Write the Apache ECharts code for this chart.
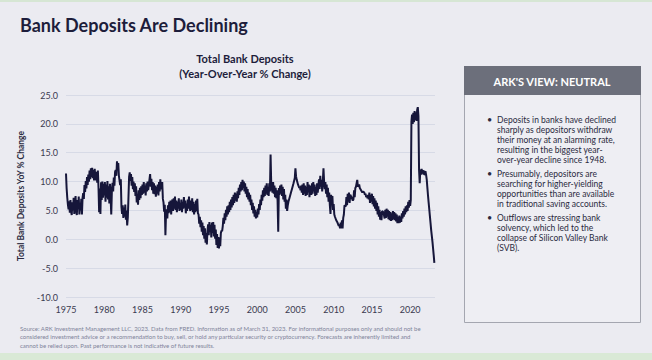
<!DOCTYPE html>
<html><head><meta charset="utf-8">
<script src="https://cdn.jsdelivr.net/npm/echarts@6/dist/echarts.min.js"></script>
<style>html,body{margin:0;padding:0;background:#ebebf1;}#c{width:652px;height:360px;}</style>
</head><body><div id="c"></div>
<script>
// Monthly YoY % change of total bank deposits
const startYear = 1975;
const vals1975_1979 = [
  11.4, 8.8, 7.2, 6.0, 5.2, 6.6, 4.6, 6.8, 4.8, 4.2, 6.4, 5.0,
  7.2, 4.4, 6.2, 7.5, 4.9, 4.2, 6.8, 5.2, 7.4, 4.3, 6.3, 5.0,
  7.0, 4.3, 7.2, 8.0, 7.0, 9.4, 8.2, 10.1, 8.8, 10.8, 9.4, 11.2,
  10.0, 11.9, 10.4, 12.3, 10.8, 12.4, 10.6, 12.0, 10.2, 12.2, 10.9, 10.2,
  11.7, 9.8, 11.9, 9.0, 4.7, 8.8, 4.4, 9.9, 6.8, 10.0, 7.2, 9.6
];
const vals1980_1984 = [
  7.6, 9.9, 6.5, 9.5, 7.2, 10.1, 6.9, 9.2, 6.2, 9.6, 7.3, 4.3,
  8.4, 9.8, 8.3, 10.7, 9.3, 11.7, 12.0, 11.0, 13.5, 12.3, 13.2, 11.0,
  11.0, 9.4, 10.4, 5.6, 4.4, 5.9, 3.7, 5.5, 3.9, 6.0, 3.4, 5.0,
  2.4, 3.8, 7.2, 10.8, 11.6, 10.1, 11.3, 9.3, 10.8, 8.7, 10.0, 8.2,
  9.7, 7.5, 9.2, 6.4, 7.9, 6.0, 8.5, 6.8, 8.9, 7.1, 9.2, 7.7
];
const vals1985_1989 = [
  9.5, 7.9, 9.9, 8.1, 9.3, 7.6, 9.7, 8.3, 10.0, 8.5, 9.5, 10.4,
  11.3, 9.1, 10.5, 8.5, 9.9, 7.9, 9.7, 7.8, 9.3, 7.4, 9.1, 7.9,
  9.5, 7.6, 9.9, 8.3, 10.4, 8.7, 8.9, 9.9, 7.0, 6.4, 4.8, 6.0,
  0.7, 4.7, 5.2, 3.6, 5.9, 4.5, 6.5, 4.7, 6.7, 4.3, 6.1, 6.9,
  4.9, 7.1, 5.3, 7.4, 5.1, 6.7, 4.7, 6.5, 5.3, 7.1, 4.9, 6.3
];
const vals1990_1994 = [
  5.1, 6.9, 4.7, 6.5, 5.3, 7.3, 5.5, 6.7, 4.5, 6.2, 4.9, 6.9,
  5.3, 7.4, 5.7, 4.9, 6.7, 5.1, 7.1, 4.7, 6.5, 4.3, 6.1, 4.7,
  6.7, 4.9, 7.0, 4.5, 4.3, 2.7, 3.9, 2.1, 3.3, 1.3, 2.9, 0.7,
  2.3, 0.1, 1.9, -0.6, 1.1, -0.9, 1.5, 2.6, 0.7, 3.0, 1.3, 2.5,
  0.3, 2.9, 1.1, 3.0, 0.5, 2.5, 0.1, 1.7, -1.0, 0.9, -1.5, 0.4
];
const vals1995_1999 = [
  -1.6, 0.3, -1.2, 1.1, 1.5, 1.4, 2.3, 3.7, 2.7, 4.5, 3.3, 5.1,
  3.9, 5.7, 4.3, 5.9, 4.7, 6.5, 5.1, 6.9, 5.5, 7.3, 5.9, 7.7,
  6.3, 8.1, 6.7, 7.9, 6.5, 8.3, 7.1, 8.9, 7.7, 9.5, 8.3, 9.9,
  8.5, 10.3, 8.9, 10.0, 8.3, 9.7, 7.9, 9.1, 7.3, 8.7, 6.9, 8.1,
  6.5, 7.7, 5.9, 6.9, 5.1, 6.3, 4.5, 5.7, 3.9, 5.1, 3.6, 4.7
];
const vals2000_2004 = [
  3.8, 5.3, 4.3, 6.1, 5.1, 6.9, 5.9, 7.7, 6.7, 8.5, 7.3, 8.9,
  7.5, 9.3, 7.9, 9.7, 7.7, 9.1, 7.5, 9.7, 8.3, 14.7, 9.8, 8.7,
  8.1, 9.9, 7.9, 9.3, 7.3, 8.9, 7.1, 8.5, 6.7, 1.3, 8.9, 7.7,
  9.3, 7.9, 9.5, 7.5, 9.1, 6.9, 8.7, 6.5, 7.7, 5.3, 6.9, 4.9,
  5.9, 6.5, 6.5, 7.3, 7.3, 8.1, 8.1, 8.9, 8.9, 9.7, 9.7, 10.6
];
const vals2005_2009 = [
  12.3, 10.9, 10.3, 10.3, 9.5, 9.5, 8.9, 9.1, 8.5, 9.3, 8.1, 9.5,
  7.7, 9.7, 7.9, 9.3, 7.5, 9.1, 7.7, 9.9, 8.1, 9.5, 7.3, 8.9,
  9.3, 7.7, 9.7, 7.9, 9.9, 8.3, 9.5, 7.5, 9.1, 7.7, 9.7, 8.1,
  9.3, 10.4, 8.7, 11.0, 9.1, 10.3, 8.3, 10.1, 12.3, 10.0, 8.7, 9.9,
  7.9, 9.5, 7.3, 8.9, 6.5, 8.1, 5.9, 4.4, 7.7, 6.3, 7.5, 5.1
];
const vals2010_2014 = [
  6.1, 4.3, 3.9, 3.9, 3.3, 3.3, 2.9, 2.9, 2.3, 2.5, 1.9, 2.9,
  1.9, 3.3, 1.9, 3.7, 4.3, 5.9, 5.9, 5.7, 7.3, 5.9, 7.9, 6.5,
  8.1, 6.3, 7.7, 7.7, 7.3, 7.3, 6.7, 6.9, 8.5, 7.3, 8.9, 9.1,
  9.1, 10.3, 9.1, 9.3, 9.5, 8.9, 8.9, 8.5, 8.5, 8.1, 8.3, 8.3,
  8.1, 7.7, 7.9, 7.3, 7.5, 7.1, 7.7, 6.9, 8.1, 6.3, 7.7, 6.5
];
const vals2015_2019 = [
  7.9, 6.1, 7.5, 5.7, 7.1, 5.3, 6.7, 4.9, 6.3, 4.3, 5.7, 3.9,
  5.1, 3.4, 4.7, 3.3, 4.9, 4.9, 4.7, 4.7, 3.6, 5.1, 3.7, 5.3,
  3.9, 5.1, 3.5, 4.9, 3.3, 4.7, 3.2, 4.5, 3.3, 4.9, 3.5, 4.7,
  3.3, 4.5, 3.1, 4.3, 2.8, 3.9, 2.8, 4.1, 2.9, 3.9, 3.0, 4.5,
  3.6, 4.9, 3.9, 5.3, 4.3, 5.7, 4.7, 5.9, 4.9, 6.5, 5.5, 6.8
];
const vals2020_2023 = [
  5.8, 6.8, 20.4, 21.6, 20.0, 21.9, 20.3, 22.2, 20.7, 22.0, 20.5, 22.4,
  22.9, 21.4, 12.0, 9.7, 12.1, 11.2, 12.2, 11.4, 12.0, 11.2, 11.9, 11.1,
  11.8, 11.2, 10.4, 9.0, 7.6, 6.4, 5.2, 4.0, 2.8, 1.6, 0.6, -0.4,
  -1.6, -2.8, -4.1
];
const xTickYears = [1975, 1980, 1985, 1990, 1995, 2000, 2005, 2010, 2015, 2020];
const yTicks = [-10, -5, 0, 5, 10, 15, 20, 25];

const allVals = [].concat(vals1975_1979, vals1980_1984, vals1985_1989, vals1990_1994,
  vals1995_1999, vals2000_2004, vals2005_2009, vals2010_2014, vals2015_2019, vals2020_2023);
const seriesData = allVals.map((v, i) => [startYear + i / 12, v]);

const FONT = 'Lato, "Open Sans", sans-serif';
const chart = echarts.init(document.getElementById('c'), null, {renderer: 'svg'});
chart.setOption({
  backgroundColor: '#ebebf1',
  animation: false,
  title: [
    {text: 'Bank Deposits Are Declining', left: 15, top: 11,
     textStyle: {fontFamily: FONT, fontSize: 18, fontWeight: 'bold', color: '#1d1d3b'}},
    {text: 'Total Bank Deposits\n(Year-Over-Year % Change)', left: 240, top: 46, textAlign: 'center',
     textStyle: {fontFamily: FONT, fontSize: 11, fontWeight: 'bold', color: '#1d1d3b', lineHeight: 15, align: 'center'}}
  ],
  grid: {left: 66, right: 217, top: 95, bottom: 63},
  xAxis: {
    type: 'value', min: 1975, max: 2023.25, interval: 5,
    axisLine: {show: false}, axisTick: {show: false}, splitLine: {show: false},
    axisLabel: {fontFamily: FONT, fontSize: 9, color: '#3a3a50', margin: 8,
      formatter: v => xTickYears.indexOf(Math.round(v * 100) / 100) >= 0 ? String(v) : ''}
  },
  yAxis: {
    type: 'value', min: -10, max: 25, interval: 5,
    name: 'Total Bank Deposits YoY % Change', nameLocation: 'middle', nameGap: 32, nameRotate: 90,
    nameTextStyle: {fontFamily: FONT, fontSize: 8.5, fontWeight: 'bold', color: '#2a2a40'},
    axisLine: {show: false}, axisTick: {show: false},
    splitLine: {lineStyle: {color: '#d7dae6', width: 1}},
    axisLabel: {fontFamily: FONT, fontSize: 9, color: '#3a3a50', margin: 8,
      formatter: v => yTicks.indexOf(v) >= 0 ? v.toFixed(1) : ''}
  },
  series: [{
    type: 'line', data: seriesData, showSymbol: false, symbol: 'none',
    lineStyle: {color: '#16163a', width: 2}
  }],
  graphic: [
    {type: 'rect', shape: {x: 0, y: 0, width: 652, height: 2}, style: {fill: '#d6e6d4'}, silent: true},
    {type: 'rect', shape: {x: 0, y: 353, width: 652, height: 7}, style: {fill: '#d9e9d6'}, silent: true},
    {type: 'rect', shape: {x: 464.5, y: 66.5, width: 176, height: 256}, style: {fill: '#eeeef3', stroke: '#a4a6b0', lineWidth: 1}},
    {type: 'rect', shape: {x: 464, y: 66, width: 177, height: 29}, style: {fill: '#6c6f7b'}},
    {type: 'text', x: 552, y: 81, style: {text: "ARK'S VIEW: NEUTRAL", fill: '#ffffff', font: 'bold 11px ' + FONT, textAlign: 'center', textVerticalAlign: 'middle'}},
    {type: 'text', x: 487, y: 115, style: {text: '•', fill: '#2a2a40', font: '9px ' + FONT}},
    {type: 'text', x: 497, y: 115, style: {text: 'Deposits in banks have declined\nsharply as depositors withdraw\ntheir money at an alarming rate,\nresulting in the biggest year-\nover-year decline since 1948.', fill: '#2a2a40', font: '8.5px ' + FONT, lineHeight: 10}},
    {type: 'text', x: 487, y: 169, style: {text: '•', fill: '#2a2a40', font: '9px ' + FONT}},
    {type: 'text', x: 497, y: 169, style: {text: 'Presumably, depositors are\nsearching for higher-yielding\nopportunities than are available\nin traditional saving accounts.', fill: '#2a2a40', font: '8.5px ' + FONT, lineHeight: 10}},
    {type: 'text', x: 487, y: 213, style: {text: '•', fill: '#2a2a40', font: '9px ' + FONT}},
    {type: 'text', x: 497, y: 213, style: {text: 'Outflows are stressing bank\nsolvency, which led to the\ncollapse of Silicon Valley Bank\n(SVB).', fill: '#2a2a40', font: '8.5px ' + FONT, lineHeight: 10}},
    {type: 'text', x: 20, y: 324, style: {text: 'Source: ARK Investment Management LLC, 2023. Data from FRED. Information as of March 31, 2023. For informational purposes only and should not be\nconsidered investment advice or a recommendation to buy, sell, or hold any particular security or cryptocurrency. Forecasts are inherently limited and\ncannot be relied upon. Past performance is not indicative of future results.', fill: '#80839a', font: '6px ' + FONT, lineHeight: 8.5}}
  ]
});
</script></body></html>
